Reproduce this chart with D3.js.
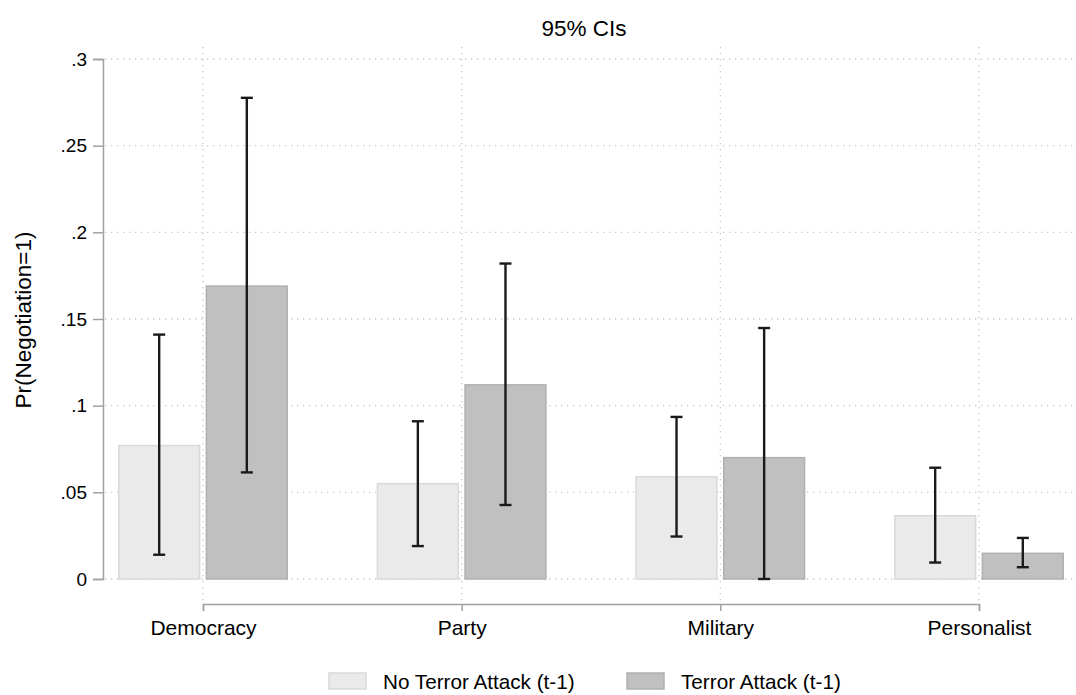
<!DOCTYPE html>
<html lang="en">

<head>
    <meta charset="UTF-8" />
    <title>Pr(Negotiation=1) by regime type</title>
    <script src="https://cdn.jsdelivr.net/npm/d3@7"></script>
    <style>
        body { margin: 0; background: #fff; }
        svg { font-family: "Liberation Sans", Arial, sans-serif; }
    </style>
</head>

<body>
    <svg width="1076" height="695"></svg>
    <script>
        const regimes = ["Democracy", "Party", "Military", "Personalist"];
        const groups = ["No Terror Attack (t-1)", "Terror Attack (t-1)"];

        // point estimates and 95% CI bounds
        const noAttack = [0.077, 0.055, 0.059, 0.0365];
        const noAttackLo = [0.014, 0.019, 0.0245, 0.0095];
        const noAttackHi = [0.141, 0.091, 0.0935, 0.0642];
        const attack = [0.169, 0.112, 0.070, 0.0148];
        const attackLo = [0.0615, 0.0427, 0.0, 0.0068];
        const attackHi = [0.2776, 0.182, 0.1448, 0.0237];

        const yTicks = [0, 0.05, 0.1, 0.15, 0.2, 0.25, 0.3];
        const yTickLabels = ["0", ".05", ".1", ".15", ".2", ".25", ".3"];

        const svg = d3.select("svg");
        const fills = ["#eaeaea", "#c0c0c0"];
        const strokes = ["#d9d9d9", "#b0b0b0"];

        const y = d3.scaleLinear().domain([0, 0.3]).range([579, 59]);
        const x = d3.scalePoint().domain(regimes).range([203, 979]);
        const inner = d3.scaleBand().domain(groups).range([-85, 85]).paddingInner(0.06);

        // dotted grid
        const grid = svg.append("g").attr("stroke", "#c6c6c6").attr("stroke-width", 1.3)
            .attr("stroke-dasharray", "1.3,4.7");
        grid.selectAll(".h").data(yTicks).join("line")
            .attr("x1", 105).attr("x2", 1073)
            .attr("y1", d => y(d)).attr("y2", d => y(d));
        grid.selectAll(".v").data(regimes).join("line")
            .attr("x1", d => x(d)).attr("x2", d => x(d))
            .attr("y1", 47).attr("y2", 601);

        const rows = regimes.map((r, i) => [
            { r, g: 0, v: noAttack[i], lo: noAttackLo[i], hi: noAttackHi[i] },
            { r, g: 1, v: attack[i], lo: attackLo[i], hi: attackHi[i] }
        ]).flat();

        svg.append("g").selectAll("rect").data(rows).join("rect")
            .attr("x", d => x(d.r) + inner(groups[d.g]) + 0.75)
            .attr("width", inner.bandwidth() - 1.5)
            .attr("y", d => y(d.v))
            .attr("height", d => y(0) - y(d.v))
            .attr("fill", d => fills[d.g])
            .attr("stroke", d => strokes[d.g])
            .attr("stroke-width", 1.5);

        // CI whiskers
        const ci = svg.append("g").attr("stroke", "#1a1a1a").attr("stroke-width", 2.4);
        const cx = d => x(d.r) + inner(groups[d.g]) + inner.bandwidth() / 2;
        ci.selectAll(".s").data(rows).join("line")
            .attr("x1", cx).attr("x2", cx)
            .attr("y1", d => y(d.lo)).attr("y2", d => y(d.hi));
        ["lo", "hi"].forEach(k => {
            ci.selectAll(".c" + k).data(rows).join("line")
                .attr("x1", d => cx(d) - 6).attr("x2", d => cx(d) + 6)
                .attr("y1", d => y(d[k])).attr("y2", d => y(d[k]));
        });

        // y axis
        const yAxis = svg.append("g").attr("transform", "translate(103,0)")
            .call(d3.axisLeft(y).tickValues(yTicks).tickFormat((d, i) => yTickLabels[i])
                .tickSize(10).tickPadding(6));
        yAxis.select(".domain").attr("stroke", "#a0a0a0").attr("stroke-width", 1.5);
        yAxis.selectAll(".tick line").attr("stroke", "#a0a0a0").attr("stroke-width", 1.5);
        yAxis.selectAll(".tick text").attr("font-size", 19).attr("fill", "#000")
            .attr("font-family", "Liberation Sans, Arial, sans-serif");

        // x axis
        const xAxis = svg.append("g").attr("transform", "translate(0,604)")
            .call(d3.axisBottom(x).tickSizeOuter(0).tickSize(7).tickPadding(9));
        xAxis.select(".domain").attr("stroke", "#a0a0a0").attr("stroke-width", 1.5);
        xAxis.selectAll(".tick line").attr("stroke", "#a0a0a0").attr("stroke-width", 1.5);
        xAxis.selectAll(".tick text").attr("font-size", 21).attr("fill", "#000")
            .attr("font-family", "Liberation Sans, Arial, sans-serif");

        svg.append("text").attr("x", 584).attr("y", 36).attr("text-anchor", "middle")
            .attr("font-size", 22.5).text("95% CIs");

        svg.append("text").attr("transform", "translate(31,320) rotate(-90)")
            .attr("text-anchor", "middle").attr("font-size", 22.5).text("Pr(Negotiation=1)");

        // legend
        const legX = [329, 627];
        const leg = svg.append("g").selectAll("g").data(groups).join("g")
            .attr("transform", (d, i) => `translate(${legX[i]},673)`);
        leg.append("rect").attr("width", 37).attr("height", 16)
            .attr("fill", (d, i) => fills[i]).attr("stroke", (d, i) => strokes[i]).attr("stroke-width", 1.5);
        leg.append("text").attr("x", 54).attr("y", 15.5).attr("font-size", 20.7).text(d => d);
    </script>
</body>

</html>
